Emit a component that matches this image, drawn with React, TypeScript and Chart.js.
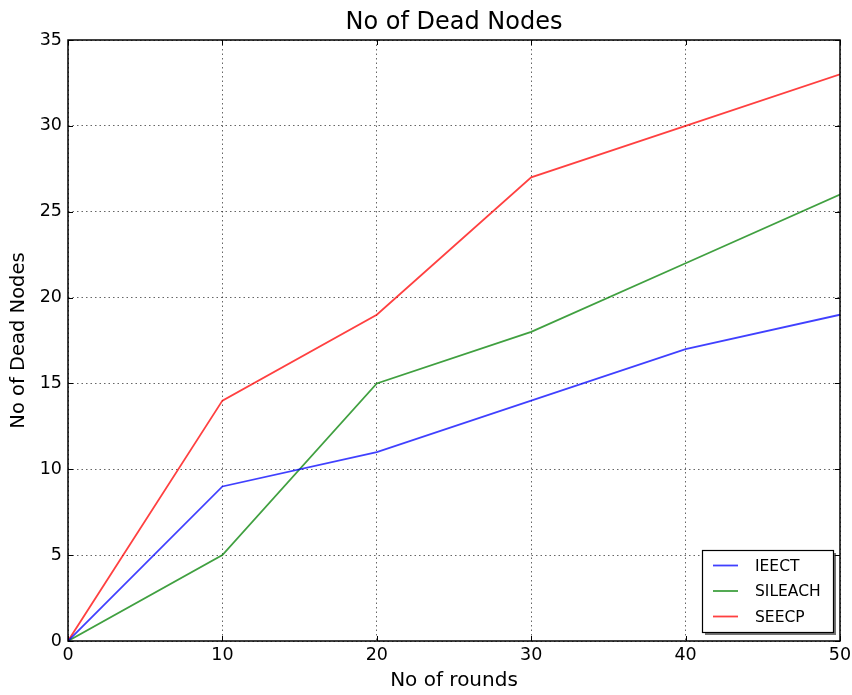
import React, { useEffect, useRef } from "react";
import { Chart, registerables } from "chart.js";
Chart.register(...registerables);

const rounds = [0, 10, 20, 30, 40, 50];
const ieect = [0, 9, 11, 14, 17, 19];
const sileach = [0, 5, 15, 18, 22, 26];
const seecp = [0, 14, 19, 27, 30, 33];
const seriesNames = ["IEECT", "SILEACH", "SEECP"];
const seriesValues = [ieect, sileach, seecp];
const seriesColors = ["rgba(0,0,255,0.75)", "rgba(0,128,0,0.75)", "rgba(255,0,0,0.75)"];
const xTicks = [0, 10, 20, 30, 40, 50];
const yTicks = [0, 5, 10, 15, 20, 25, 30, 35];

const FONT = "'DejaVu Sans', sans-serif";

const framePlugin = {
  id: "frameTicksLegend",
  afterDatasetsDraw(chart: any) {
    const { ctx, chartArea } = chart;
    const { left, right, top, bottom } = chartArea;
    const xs = chart.scales.x;
    const ys = chart.scales.y;
    ctx.save();
    ctx.strokeStyle = "#000";
    ctx.lineWidth = 1;
    const tl = 5;
    ctx.beginPath();
    xTicks.forEach((v) => {
      const px = Math.round(xs.getPixelForValue(v)) + 0.5;
      ctx.moveTo(px, bottom);
      ctx.lineTo(px, bottom - tl);
      ctx.moveTo(px, top);
      ctx.lineTo(px, top + tl);
    });
    yTicks.forEach((v) => {
      const py = Math.round(ys.getPixelForValue(v)) + 0.5;
      ctx.moveTo(left, py);
      ctx.lineTo(left + tl, py);
      ctx.moveTo(right, py);
      ctx.lineTo(right - tl, py);
    });
    ctx.stroke();
    ctx.lineWidth = 1.5;
    ctx.strokeRect(left, top, right - left, bottom - top);

    // legend
    const bx = 702, by = 550, bw = 131, bh = 82;
    ctx.fillStyle = "rgba(0,0,0,0.55)";
    ctx.fillRect(bx + 3, by + 3, bw, bh);
    ctx.fillStyle = "#fff";
    ctx.fillRect(bx, by, bw, bh);
    ctx.lineWidth = 1.2;
    ctx.strokeStyle = "#000";
    ctx.strokeRect(bx + 0.5, by + 0.5, bw, bh);
    ctx.font = "15.5px " + FONT;
    ctx.textBaseline = "middle";
    ctx.textAlign = "left";
    chart.data.datasets.forEach((ds: any, i: number) => {
      const ly = 565.5 + i * 25.5;
      ctx.strokeStyle = ds.borderColor;
      ctx.lineWidth = 1.8;
      ctx.beginPath();
      ctx.moveTo(713, ly);
      ctx.lineTo(738, ly);
      ctx.stroke();
      ctx.fillStyle = "#000";
      ctx.fillText(ds.label, 755, ly + 1);
    });
    ctx.restore();
  },
};

export default function App() {
  const ref = useRef<HTMLCanvasElement>(null);
  useEffect(() => {
    if (!ref.current) return;
    const chart = new Chart(ref.current, {
      type: "line",
      data: {
        datasets: seriesNames.map((name, i) => ({
          label: name,
          data: rounds.map((r, j) => ({ x: r, y: seriesValues[i][j] })),
          borderColor: seriesColors[i],
          backgroundColor: seriesColors[i],
          borderWidth: 1.8,
          pointRadius: 0,
          tension: 0,
          fill: false,
        })),
      },
      options: {
        responsive: false,
        animation: false,
        layout: { padding: { left: 0, right: 12, top: 0, bottom: 0 } },
        plugins: {
          legend: { display: false },
          tooltip: { enabled: false },
          title: {
            display: true,
            fullSize: false,
            text: "No of Dead Nodes",
            color: "#000",
            font: { family: FONT, size: 24, weight: "normal", lineHeight: 1.2 },
            padding: { top: 8, bottom: 3.2 },
          },
        },
        scales: {
          x: {
            type: "linear",
            min: 0,
            max: 50,
            afterFit: (s: any) => { s.height = 54; s.paddingLeft = 0; s.paddingRight = 0; },
            afterBuildTicks: (s: any) => { s.ticks = xTicks.map((v) => ({ value: v })); },
            ticks: { color: "#000", font: { family: FONT, size: 17.5 }, padding: 4, maxRotation: 0 },
            grid: { color: "rgba(0,0,0,0.6)", lineWidth: 1, drawTicks: false },
            border: { display: false, dash: [1.5, 3] },
            title: {
              display: true,
              text: "No of rounds",
              color: "#000",
              font: { family: FONT, size: 20 },
              padding: { top: 0, bottom: 2 },
            },
          },
          y: {
            type: "linear",
            min: 0,
            max: 35,
            afterFit: (s: any) => { s.width = 68; s.paddingTop = 0; s.paddingBottom = 0; },
            afterBuildTicks: (s: any) => { s.ticks = yTicks.map((v) => ({ value: v })); },
            ticks: { color: "#000", font: { family: FONT, size: 17.5 }, padding: 6 },
            grid: { color: "rgba(0,0,0,0.6)", lineWidth: 1, drawTicks: false },
            border: { display: false, dash: [1.5, 3] },
            title: {
              display: true,
              text: "No of Dead Nodes",
              color: "#000",
              font: { family: FONT, size: 19.5 },
              padding: { top: 7, bottom: 0 },
            },
          },
        },
      },
      plugins: [framePlugin],
    } as any);
    return () => chart.destroy();
  }, []);
  return (
    <div style={{ position: "fixed", left: 0, top: 0, width: 852, height: 695, background: "#fff" }}>
      <canvas ref={ref} width={852} height={695} style={{ display: "block" }} />
    </div>
  );
}
